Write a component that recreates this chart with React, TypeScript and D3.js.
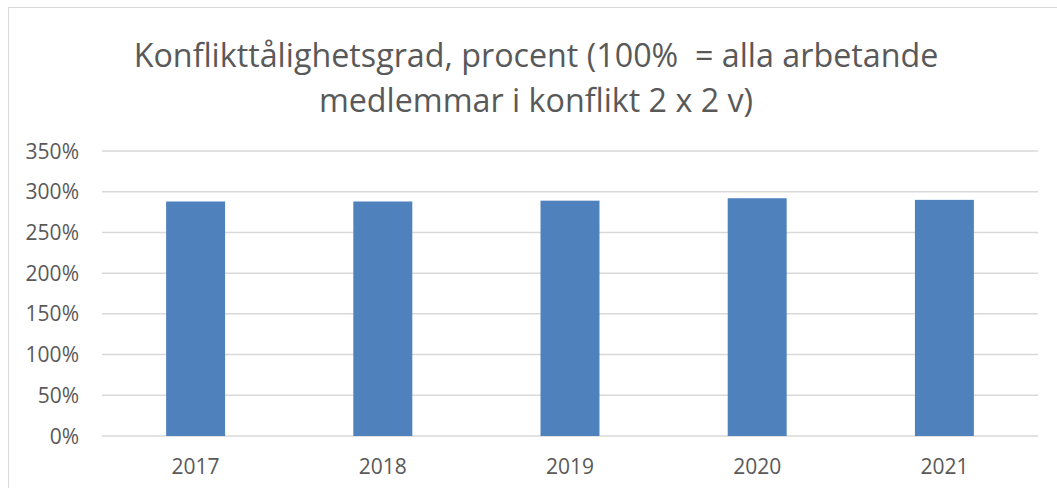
import { useEffect, useRef } from "react";
import * as d3 from "d3";

const years = ["2017", "2018", "2019", "2020", "2021"];
const values = [288, 288, 289, 292, 290];
const yTicks = [0, 50, 100, 150, 200, 250, 300, 350];
const titleLines = [
  "Konflikttålighetsgrad, procent (100%  = alla arbetande",
  "medlemmar i konflikt 2 x 2 v)",
];

const W = 1057;
const H = 488;
const FONT = "'Open Sans', 'Noto Sans', sans-serif";
const TEXT = "#595959";

export default function App() {
  const ref = useRef<SVGSVGElement>(null);

  useEffect(() => {
    const svg = d3.select(ref.current);
    svg.selectAll("*").remove();

    const margin = { left: 102, right: W - 1038, top: 151, bottom: H - 436 };

    // chart frame, cropped at right and bottom like the screenshot
    svg.append("rect")
      .attr("x", 8.5).attr("y", 7.5)
      .attr("width", W + 20).attr("height", H + 20)
      .attr("fill", "#fff").attr("stroke", "#d9d9d9").attr("stroke-width", 1);

    const x = d3.scaleBand()
      .domain(years)
      .range([margin.left, W - margin.right])
      .paddingInner(0.685)
      .paddingOuter(0.3425);

    const y = d3.scaleLinear().domain([0, 350]).range([H - margin.bottom, margin.top]);

    // gridlines
    svg.append("g").selectAll("line").data(yTicks).join("line")
      .attr("x1", margin.left).attr("x2", W - margin.right)
      .attr("y1", d => y(d)).attr("y2", d => y(d))
      .attr("stroke", "#d9d9d9").attr("stroke-width", 1.5);

    // y labels
    svg.append("g").selectAll("text").data(yTicks).join("text")
      .attr("x", 79).attr("y", d => y(d))
      .attr("dy", "0.36em")
      .attr("text-anchor", "end")
      .attr("font-family", FONT).attr("font-size", 21).attr("fill", TEXT)
      .text(d => d + "%");

    // bars
    svg.append("g").selectAll("rect").data(values).join("rect")
      .attr("x", (_, i) => x(years[i])!)
      .attr("width", x.bandwidth())
      .attr("y", d => y(d))
      .attr("height", d => y(0) - y(d))
      .attr("fill", "#4f81bd");

    // x labels
    svg.append("g").selectAll("text").data(years).join("text")
      .attr("x", d => x(d)! + x.bandwidth() / 2)
      .attr("y", 466.5).attr("dy", "0.36em")
      .attr("text-anchor", "middle")
      .attr("font-family", FONT).attr("font-size", 21).attr("fill", TEXT)
      .text(d => d);

    // title
    const title = svg.append("g").selectAll("text").data(titleLines).join("text")
      .attr("x", 536)
      .attr("y", (_, i) => 55 + i * 45).attr("dy", "0.36em")
      .attr("text-anchor", "middle")
      .attr("xml:space", "preserve")
      .style("white-space", "pre")
      .attr("font-family", FONT).attr("font-size", 32).attr("fill", TEXT)
      .text(d => d);

    // fit font size to the width of the first line
    const node = title.nodes()[0] as SVGTextElement;
    const w = node.getComputedTextLength();
    if (w > 0) title.attr("font-size", (32 * 805) / w);
  }, []);

  return (
    <svg
      ref={ref}
      width={W}
      height={H}
      style={{ position: "absolute", left: 0, top: 0, background: "#fff" }}
    />
  );
}
